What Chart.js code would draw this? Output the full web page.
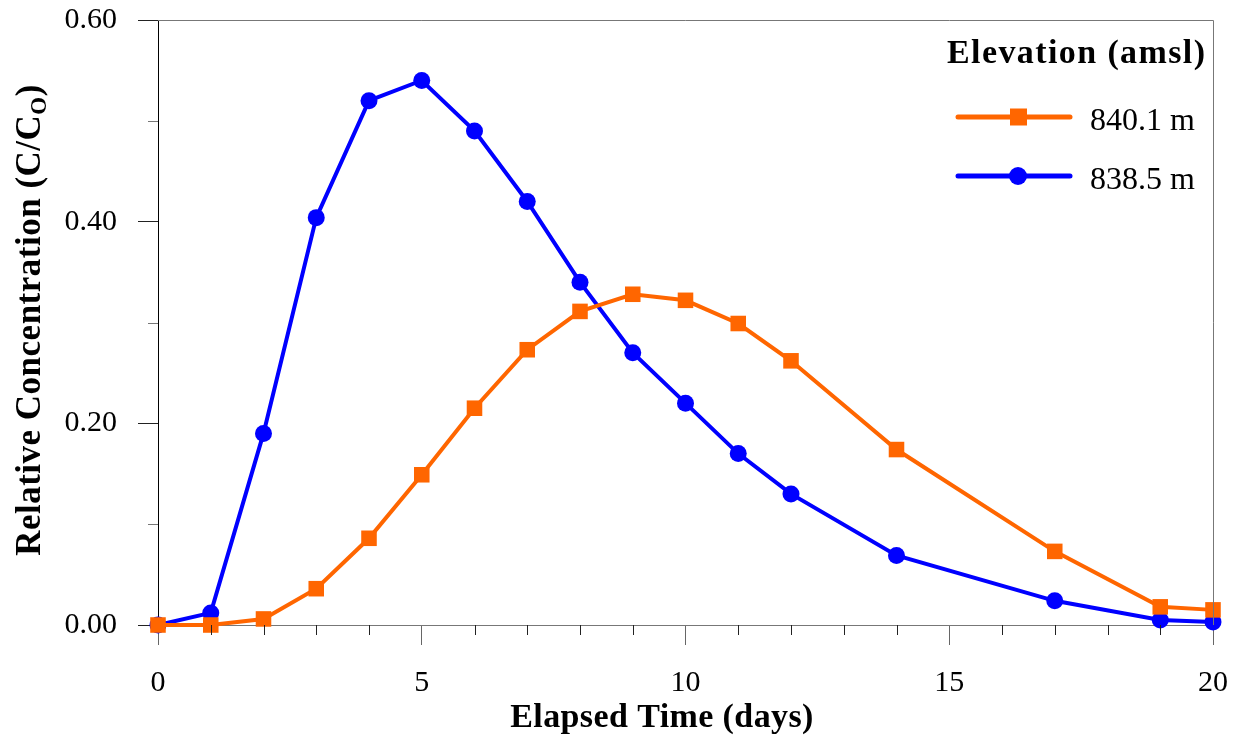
<!DOCTYPE html>
<html lang="en">
<head>
    <meta charset="UTF-8">
    <title>Relative Concentration vs Elapsed Time</title>
    <script src="https://cdn.jsdelivr.net/npm/chart.js@4.4.1/dist/chart.umd.min.js"></script>
    <style>
        body {
            margin: 0;
            background: #ffffff;
        }
        #wrap {
            width: 1244px;
            height: 744px;
        }
    </style>
</head>
<body>
    <div id="wrap">
        <canvas id="concChart" width="1244" height="744"></canvas>
    </div>

    <script>
        // Elapsed time (days) of each sample
        const days = [0, 1, 2, 3, 4, 5, 6, 7, 8, 9, 10, 11, 12, 14, 17, 19, 20];

        // Relative concentration C/Co at each elevation
        const conc8401 = [0, 0, 0.006, 0.036, 0.086, 0.149, 0.215, 0.273, 0.311, 0.328, 0.322, 0.299, 0.262, 0.174, 0.073, 0.018, 0.015];
        const conc8385 = [0, 0.012, 0.19, 0.404, 0.52, 0.54, 0.49, 0.42, 0.34, 0.27, 0.22, 0.17, 0.13, 0.069, 0.024, 0.005, 0.003];

        const seriesLabels = ['840.1 m', '838.5 m'];
        const xMinorTicks = [1, 2, 3, 4, 6, 7, 8, 9, 11, 12, 13, 14, 16, 17, 18, 19];
        const yMinorTicks = [0.1, 0.3, 0.5];

        const serif = "'Liberation Serif', 'Times New Roman', serif";

        function toPoints(ys) {
            return days.map((d, i) => ({ x: d, y: ys[i] }));
        }

        // Minor ticks, frame, axis titles and the legend box
        const decorations = {
            id: 'decorations',
            afterDraw(chart) {
                const ctx = chart.ctx;
                const area = chart.chartArea;
                const xs = chart.scales.x;
                const ys = chart.scales.y;
                ctx.save();

                // frame on top and right
                ctx.strokeStyle = '#777';
                ctx.lineWidth = 1;
                ctx.beginPath();
                ctx.moveTo(area.left, Math.round(area.top) + 0.5);
                ctx.lineTo(Math.round(area.right) + 0.5, Math.round(area.top) + 0.5);
                ctx.lineTo(Math.round(area.right) + 0.5, area.bottom);
                ctx.stroke();

                // minor ticks
                ctx.strokeStyle = '#222';
                ctx.beginPath();
                xMinorTicks.forEach(v => {
                    const px = Math.round(xs.getPixelForValue(v)) + 0.5;
                    ctx.moveTo(px, area.bottom);
                    ctx.lineTo(px, area.bottom + 10);
                });
                ctx.stroke();
                ctx.strokeStyle = '#777';
                ctx.beginPath();
                yMinorTicks.forEach(v => {
                    const py = Math.round(ys.getPixelForValue(v)) + 0.5;
                    ctx.moveTo(area.left - 10, py);
                    ctx.lineTo(area.left, py);
                });
                ctx.stroke();

                // x axis title
                ctx.fillStyle = '#000';
                ctx.font = 'bold 34px ' + serif;
                ctx.letterSpacing = '0.4px';
                ctx.textAlign = 'center';
                ctx.textBaseline = 'alphabetic';
                ctx.fillText('Elapsed Time (days)', 662, 727);

                // y axis title with subscript
                const main = 'Relative Concentration (C/C';
                const sub = 'O';
                const close = ')';
                const subFont = 'bold 23px ' + serif;
                const mainFont = 'bold 35px ' + serif;
                ctx.letterSpacing = '0.5px';
                ctx.font = mainFont;
                const w1 = ctx.measureText(main).width;
                const w3 = ctx.measureText(close).width;
                ctx.font = subFont;
                const w2 = ctx.measureText(sub).width;
                const total = w1 + w2 + w3;
                ctx.translate(40, 320);
                ctx.rotate(-Math.PI / 2);
                ctx.textAlign = 'left';
                let cx = -total / 2;
                ctx.font = mainFont;
                ctx.fillText(main, cx, 0);
                cx += w1;
                ctx.font = subFont;
                ctx.fillText(sub, cx, 6);
                cx += w2;
                ctx.font = mainFont;
                ctx.fillText(close, cx, 0);
                ctx.setTransform(1, 0, 0, 1, 0, 0);

                // legend
                ctx.letterSpacing = '1.4px';
                ctx.font = 'bold 34px ' + serif;
                ctx.textAlign = 'left';
                ctx.fillText('Elevation (amsl)', 947, 63);
                ctx.letterSpacing = '0px';
                const rowsY = [117, 176];
                chart.data.datasets.forEach((ds, i) => {
                    const y = rowsY[i];
                    ctx.strokeStyle = ds.borderColor;
                    ctx.lineWidth = 5;
                    ctx.lineCap = 'round';
                    ctx.beginPath();
                    ctx.moveTo(958, y);
                    ctx.lineTo(1070, y);
                    ctx.stroke();
                    ctx.fillStyle = ds.backgroundColor;
                    if (ds.pointStyle === 'rect') {
                        ctx.fillRect(1010, y - 8.5, 17, 17);
                    } else {
                        ctx.beginPath();
                        ctx.arc(1018, y, 9, 0, Math.PI * 2);
                        ctx.fill();
                    }
                    ctx.fillStyle = '#000';
                    ctx.font = '32px ' + serif;
                    ctx.fillText(ds.label, 1090, y + 13);
                });

                ctx.restore();
            }
        };

        new Chart(document.getElementById('concChart'), {
            type: 'line',
            data: {
                datasets: [{
                    label: seriesLabels[0],
                    data: toPoints(conc8401),
                    borderColor: '#ff6600',
                    backgroundColor: '#ff6600',
                    borderWidth: 4,
                    pointStyle: 'rect',
                    pointRadius: 11,
                    pointBorderWidth: 0,
                    tension: 0,
                    clip: false
                }, {
                    label: seriesLabels[1],
                    data: toPoints(conc8385),
                    borderColor: '#0000ff',
                    backgroundColor: '#0000ff',
                    borderWidth: 4,
                    pointStyle: 'circle',
                    pointRadius: 8.5,
                    pointBorderWidth: 0,
                    tension: 0,
                    clip: false
                }]
            },
            options: {
                responsive: false,
                animation: false,
                layout: {
                    padding: { top: 20, right: 31, left: 0, bottom: 0 }
                },
                plugins: {
                    legend: { display: false },
                    tooltip: { enabled: false }
                },
                scales: {
                    x: {
                        type: 'linear',
                        min: 0,
                        max: 20,
                        afterFit(s) {
                            s.height = 119;
                            s.paddingLeft = 0;
                            s.paddingRight = 0;
                        },
                        ticks: {
                            stepSize: 5,
                            color: '#000',
                            padding: 20,
                            font: { family: serif, size: 30 }
                        },
                        grid: {
                            drawOnChartArea: false,
                            tickLength: 20,
                            tickColor: '#666'
                        },
                        border: { color: '#777', width: 1 }
                    },
                    y: {
                        min: 0,
                        max: 0.6,
                        afterFit(s) {
                            s.width = 158;
                            s.paddingTop = 0;
                            s.paddingBottom = 0;
                        },
                        ticks: {
                            stepSize: 0.2,
                            color: '#000',
                            padding: 21,
                            font: { family: serif, size: 30 },
                            callback: v => v.toFixed(2)
                        },
                        grid: {
                            drawOnChartArea: false,
                            tickLength: 20,
                            tickColor: '#222'
                        },
                        border: { color: '#000', width: 1 }
                    }
                }
            },
            plugins: [decorations]
        });
    </script>
</body>
</html>
